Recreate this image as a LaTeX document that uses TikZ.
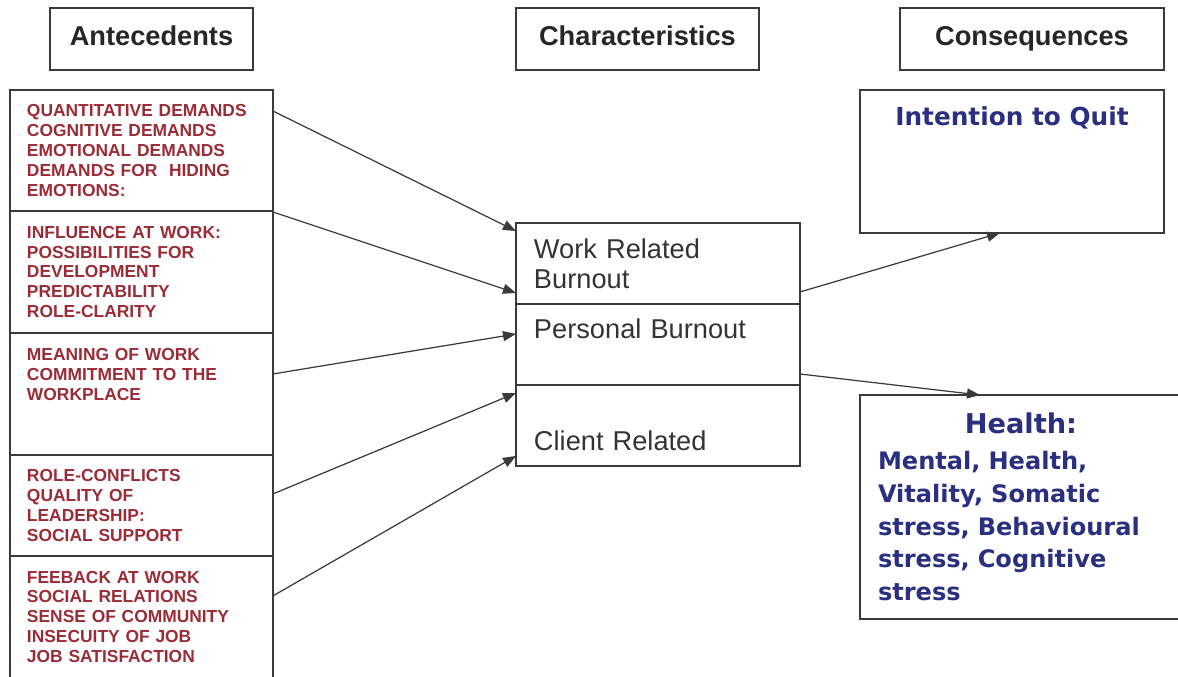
\documentclass[tikz,border=0pt]{standalone}
\usepackage{fontspec}
\setmainfont{Liberation Sans}
\newfontfamily\consfont{DejaVu Sans}
\usetikzlibrary{arrows.meta,positioning,calc}
\definecolor{antered}{HTML}{9B2B35}
\definecolor{consblue}{HTML}{2B2F7F}
\definecolor{boxline}{HTML}{3A3A3A}
\tikzset{
  hdr/.style={draw=boxline,line width=0.85pt,anchor=north west,inner sep=0pt,outer sep=0pt,text height=0.76cm,text depth=0.48cm,font=\fontsize{15.5}{18}\selectfont\bfseries,text=black!85},
  ante/.style={draw=boxline,line width=0.85pt,minimum width=5.26cm,text width=4.58cm,inner xsep=0.34cm,inner ysep=0pt,outer sep=0pt,align=left,font=\fontsize{9.9}{11.34}\selectfont\bfseries,text=antered},
  charbox/.style={draw=boxline,line width=0.85pt,minimum width=5.68cm,text height=0.7cm,text depth=0.92cm,text width=4.96cm,inner xsep=0.36cm,inner ysep=0pt,outer sep=0pt,align=left,font=\fontsize{15.5}{17.6}\selectfont,text=black!80},
  cons/.style={draw=boxline,line width=0.85pt,anchor=north west,inner sep=0pt,outer sep=0pt,text=consblue,font=\consfont\bfseries},
  arr/.style={-{Triangle[length=0.26cm,width=0.2cm]},draw=boxline,line width=0.7pt},
}
\begin{document}
\begin{tikzpicture}[x=0.02cm,y=-0.02cm]
  \useasboundingbox (0,0) rectangle (1178,677);

  \node[hdr,minimum width=4.06cm] (hant) at (50,8) {Antecedents};
  \node[hdr,minimum width=4.86cm] (hchar) at (516,8) {Characteristics};
  \node[hdr,minimum width=5.28cm] (hcons) at (900,8) {Consequences};

  \node[ante,anchor=north west,minimum height=2.42cm] (dem) at (10,90) {QUANTITATIVE DEMANDS\\COGNITIVE DEMANDS\\EMOTIONAL DEMANDS\\DEMANDS FOR \ HIDING\\EMOTIONS:};
  \node[ante,below=0pt of dem,minimum height=2.44cm] (infl) {INFLUENCE AT WORK:\\POSSIBILITIES FOR\\DEVELOPMENT\\PREDICTABILITY\\ROLE-CLARITY};
  \node[ante,below=0pt of infl,minimum height=2.44cm] (mean) {MEANING OF WORK\\COMMITMENT TO THE\\WORKPLACE\\~\\~};
  \node[ante,below=0pt of mean,minimum height=2.02cm] (role) {ROLE-CONFLICTS\\QUALITY OF\\LEADERSHIP:\\SOCIAL SUPPORT};
  \node[ante,below=0pt of role,minimum height=2.44cm] (feed) {FEEBACK AT WORK\\SOCIAL RELATIONS\\SENSE OF COMMUNITY\\INSECUITY OF JOB\\JOB SATISFACTION};

  \node[charbox,anchor=north west] (wrb) at (516,223) {Work Related\\Burnout};
  \node[charbox,below=0pt of wrb] (pb) {Personal Burnout};
  \node[charbox,below=0pt of pb] (crl) {\strut\\Client Related};

  \node[cons,minimum width=6.08cm,text height=0.72cm,text depth=2.14cm,font=\consfont\bfseries\fontsize{14.1}{17}\selectfont] (quit) at (860,90) {Intention to Quit};
  \node[cons,minimum height=4.48cm,text width=5.72cm,inner xsep=0.36cm,align=left,font=\consfont\bfseries\fontsize{13.7}{18.7}\selectfont] (hlth) at (860,395)
    {\makebox[5.72cm]{\fontsize{15.5}{18}\selectfont Health:}\\[1.7pt]Mental, Health,\\Vitality, Somatic\\stress, Behavioural\\stress, Cognitive\\stress};

  \foreach \s/\sy/\t/\ty in {dem/21/wrb.north west/8, infl/1/wrb.south west/-11, mean/41/pb.north west/30, role/39/crl.north west/8, feed/40/crl.south west/-10}
    \draw[arr] ($(\s.north east)+(0,\sy)$) -- ($(\t)+(0,\ty)$);
  \draw[arr] ($(wrb.south east)+(0,-12)$) -- ($(quit.south west)+(140,0)$);
  \draw[arr] ($(pb.south east)+(0,-11)$) -- ($(hlth.north west)+(120,0)$);
\end{tikzpicture}
\end{document}
